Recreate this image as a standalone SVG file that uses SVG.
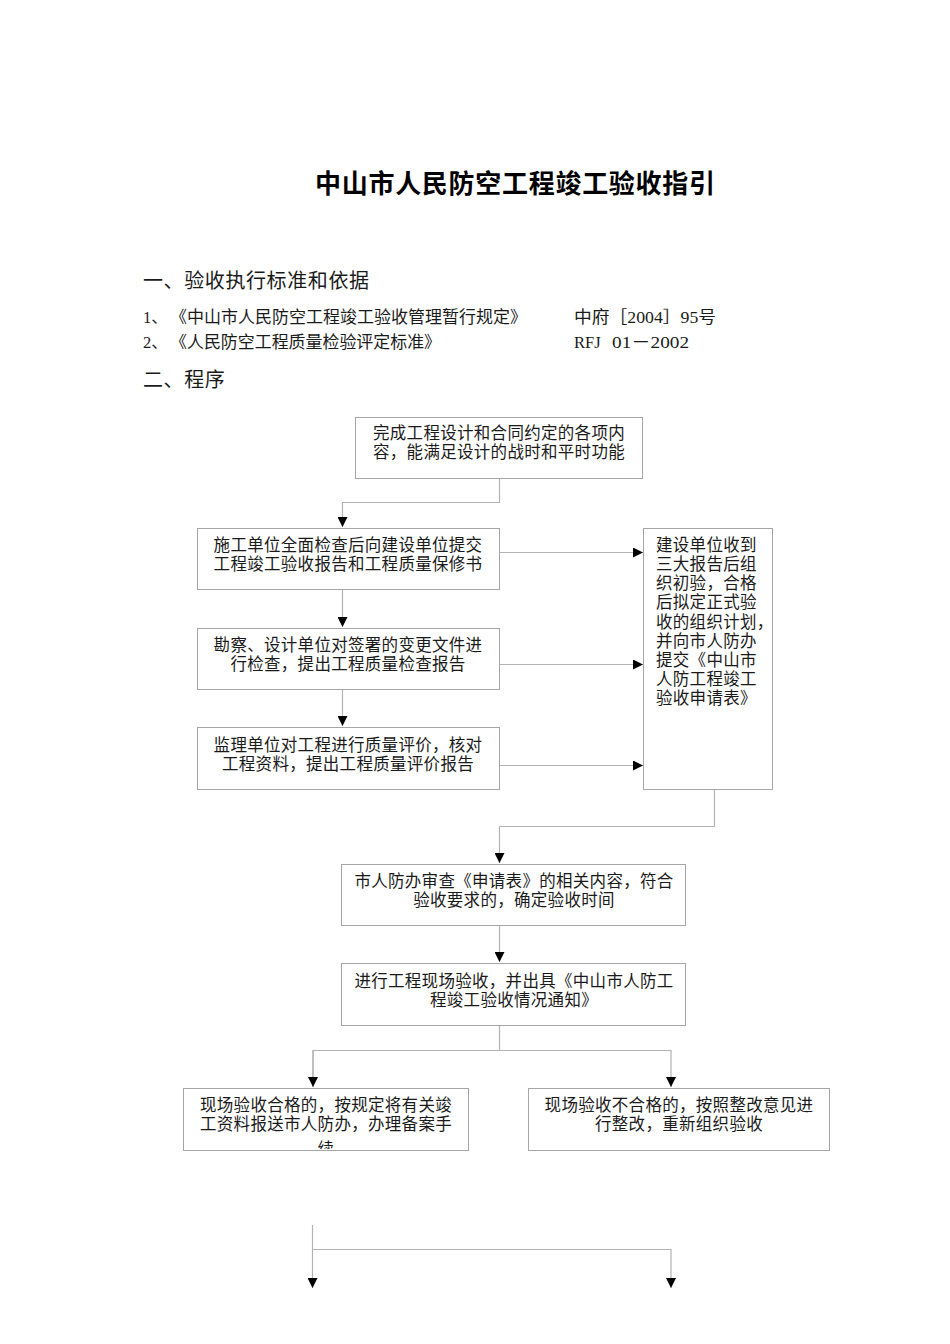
<svg xmlns="http://www.w3.org/2000/svg" width="950" height="1344" viewBox="0 0 950 1344">
<style>
.bg{fill:#fff}
.box{fill:#fff;stroke:#a6a6a6;stroke-width:1}
.t{font-family:"Liberation Serif","Noto Sans CJK SC",serif;font-size:16.5px;letter-spacing:0.3px;fill:#1a1a1a}
.c{text-anchor:middle}
.h{font-family:"Liberation Serif","Noto Sans CJK SC",serif;font-size:20px;letter-spacing:0.6px;fill:#1a1a1a}
.s{font-family:"Liberation Serif","Noto Sans CJK SC",serif;font-size:16.5px;fill:#1a1a1a}
.title{font-family:"Noto Sans CJK SC",sans-serif;font-size:26px;font-weight:bold;fill:#000}
.ln{fill:none;stroke:#b3b3b3;stroke-width:1.2}
</style>
<defs>
<marker id="ah" viewBox="0 0 10 10" refX="10" refY="5" markerWidth="10" markerHeight="10" markerUnits="userSpaceOnUse" orient="auto">
<path d="M0,0 L10,5 L0,10 Z" fill="#000"/>
</marker>
<clipPath id="clip8"><rect x="184" y="1089" width="284" height="60"/></clipPath>
</defs>
<rect class="bg" x="0" y="0" width="950" height="1344"/>

<g id="header">
<text class="title" x="315" y="193" textLength="400" lengthAdjust="spacing">中山市人民防空工程竣工验收指引</text>
<text class="h" x="143" y="288">一、验收执行标准和依据</text>
<text class="s" x="143" y="323">1、<tspan x="170" textLength="357" lengthAdjust="spacingAndGlyphs">《中山市人民防空工程竣工验收管理暂行规定》</tspan></text>
<text class="s" x="574" y="323" textLength="142" lengthAdjust="spacingAndGlyphs">中府［2004］95号</text>
<text class="s" x="143" y="348">2、<tspan x="170" textLength="271" lengthAdjust="spacingAndGlyphs">《人民防空工程质量检验评定标准》</tspan></text>
<text class="s" x="574" y="348">RFJ<tspan x="612" textLength="77" lengthAdjust="spacingAndGlyphs">01－2002</tspan></text>
<text class="h" x="143" y="387">二、程序</text>
</g>

<g id="connectors">
<polyline class="ln" points="499.5,478 499.5,502.5 342.5,502.5 342.5,527" marker-end="url(#ah)"/>
<line class="ln" x1="342.5" y1="589" x2="342.5" y2="627" marker-end="url(#ah)"/>
<line class="ln" x1="342.5" y1="689" x2="342.5" y2="726" marker-end="url(#ah)"/>
<line class="ln" x1="499" y1="552.5" x2="643" y2="552.5" marker-end="url(#ah)"/>
<line class="ln" x1="499" y1="664.5" x2="643" y2="664.5" marker-end="url(#ah)"/>
<line class="ln" x1="499" y1="765.5" x2="643" y2="765.5" marker-end="url(#ah)"/>
<polyline class="ln" points="714.5,789 714.5,826.5 499.5,826.5 499.5,863" marker-end="url(#ah)"/>
<line class="ln" x1="499.5" y1="925" x2="499.5" y2="962" marker-end="url(#ah)"/>
<line class="ln" x1="499.5" y1="1025" x2="499.5" y2="1050.5"/>
<polyline class="ln" points="313,1087 313,1050.5 671,1050.5 671,1087" marker-end="url(#ah)"/>
<line class="ln" x1="313" y1="1050.5" x2="313" y2="1087" marker-end="url(#ah)"/>
<polyline class="ln" points="312.5,1225 312.5,1288" marker-end="url(#ah)"/>
<polyline class="ln" points="312.5,1249.5 671,1249.5 671,1288" marker-end="url(#ah)"/>
</g>

<g id="n1">
<rect class="box" x="355.5" y="417.5" width="287" height="61"/>
<text class="t c" x="499" y="439">完成工程设计和合同约定的各项内</text>
<text class="t c" x="499" y="458">容，能满足设计的战时和平时功能</text>
</g>

<g id="n2">
<rect class="box" x="197.5" y="528.5" width="302" height="61"/>
<text class="t c" x="348" y="551">施工单位全面检查后向建设单位提交</text>
<text class="t c" x="348" y="570">工程竣工验收报告和工程质量保修书</text>
</g>

<g id="n3">
<rect class="box" x="197.5" y="628.5" width="302" height="61"/>
<text class="t c" x="348" y="651">勘察、设计单位对签署的变更文件进</text>
<text class="t c" x="348" y="670">行检查，提出工程质量检查报告</text>
</g>

<g id="n4">
<rect class="box" x="197.5" y="727.5" width="302" height="62"/>
<text class="t c" x="348" y="751">监理单位对工程进行质量评价，核对</text>
<text class="t c" x="348" y="770">工程资料，提出工程质量评价报告</text>
</g>

<g id="n5">
<rect class="box" x="643.5" y="528.5" width="129" height="261"/>
<text class="t" x="656" y="551" letter-spacing="0.9">建设单位收到</text>
<text class="t" x="656" y="570" letter-spacing="0.9">三大报告后组</text>
<text class="t" x="656" y="589" letter-spacing="0.9">织初验，合格</text>
<text class="t" x="656" y="608" letter-spacing="0.9">后拟定正式验</text>
<text class="t" x="656" y="628" letter-spacing="0.9">收的组织计划，</text>
<text class="t" x="656" y="647" letter-spacing="0.9">并向市人防办</text>
<text class="t" x="656" y="666" letter-spacing="0.9">提交《中山市</text>
<text class="t" x="656" y="685" letter-spacing="0.9">人防工程竣工</text>
<text class="t" x="656" y="704" letter-spacing="0.9">验收申请表》</text>
</g>

<g id="n6">
<rect class="box" x="341.5" y="864.5" width="344" height="61"/>
<text class="t c" x="514" y="887">市人防办审查《申请表》的相关内容，符合</text>
<text class="t c" x="514" y="906">验收要求的，确定验收时间</text>
</g>

<g id="n7">
<rect class="box" x="341.5" y="963.5" width="344" height="62"/>
<text class="t c" x="514" y="987">进行工程现场验收，并出具《中山市人防工</text>
<text class="t c" x="514" y="1006">程竣工验收情况通知》</text>
</g>

<g id="n8">
<rect class="box" x="183.5" y="1088.5" width="285" height="62"/>
<g clip-path="url(#clip8)">
<text class="t c" x="326" y="1111">现场验收合格的，按规定将有关竣</text>
<text class="t c" x="326" y="1130">工资料报送市人防办，办理备案手</text>
<text class="t c" x="326" y="1155">续</text>
</g>
</g>

<g id="n9">
<rect class="box" x="528.5" y="1088.5" width="301" height="62"/>
<text class="t c" x="679" y="1111">现场验收不合格的，按照整改意见进</text>
<text class="t c" x="679" y="1130">行整改，重新组织验收</text>
</g>
</svg>
